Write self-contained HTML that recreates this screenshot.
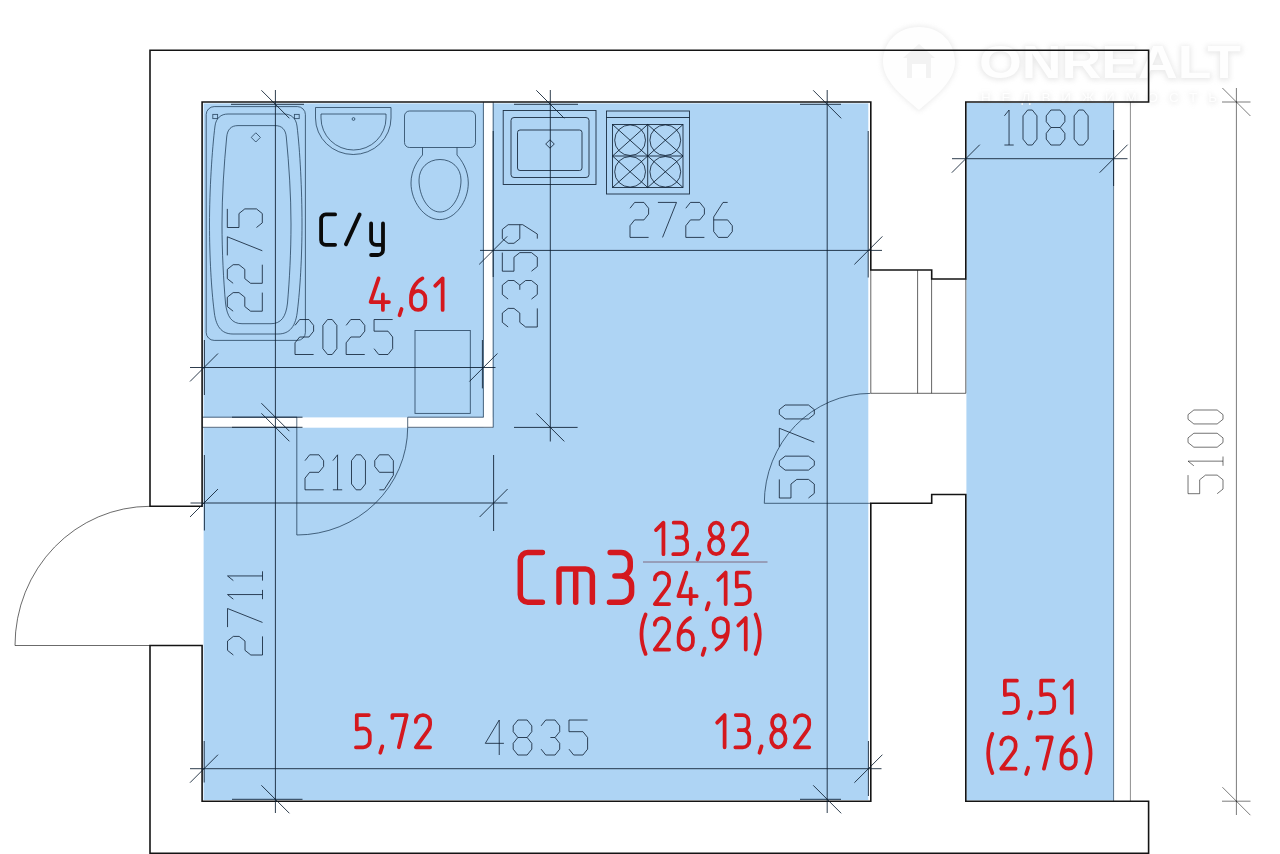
<!DOCTYPE html>
<html><head><meta charset="utf-8"><title>Plan</title>
<style>html,body{margin:0;padding:0;background:#fff;}body{width:1280px;height:854px;overflow:hidden;font-family:"Liberation Sans",sans-serif;}svg{display:block;filter:blur(0.3px)}</style>
</head><body>
<svg width="1280" height="854" viewBox="0 0 1280 854">
<rect width="1280" height="854" fill="#ffffff"/>
<rect x="203.6" y="103.4" width="664.6999999999999" height="696.6" fill="#aed4f4"/>
<rect x="966.4" y="103" width="147.19999999999993" height="697.4" fill="#aed4f4"/>
<rect x="483.6" y="102.6" width="9.2" height="325.4" fill="#fff"/>
<rect x="203" y="417.4" width="290" height="10.3" fill="#fff"/>
<g opacity="0.34" style="filter:blur(2.4px)">
<text x="979" y="78.5" font-family="Liberation Sans, sans-serif" font-weight="bold" font-size="46" textLength="262" lengthAdjust="spacingAndGlyphs" fill="#c4c4c4" stroke="#c4c4c4" stroke-width="3">ONREALT</text>
<path d="M919,27 C897,27 883,43 883,62 C883,82 905,98 919,110 C933,98 955,82 955,62 C955,43 941,27 919,27 Z" fill="#cccccc" stroke="#cccccc" stroke-width="3"/>
<text x="981" y="102.5" font-family="Liberation Sans, sans-serif" font-size="13.5" textLength="236" lengthAdjust="spacing" fill="#c8c8c8" stroke="#c8c8c8" stroke-width="1.5">НЕДВИЖИМОСТЬ</text>
</g>
<text x="979" y="77.5" font-family="Liberation Sans, sans-serif" font-weight="bold" font-size="46" textLength="262" lengthAdjust="spacingAndGlyphs" fill="#ffffff" fill-opacity="0.92">ONREALT</text>
<path d="M919,27 C897,27 883,43 883,62 C883,82 905,98 919,110 C933,98 955,82 955,62 C955,43 941,27 919,27 Z" fill="#ffffff" fill-opacity="0.9"/>
<path d="M919,44 L903,58 L907,58 L907,78 L931,78 L931,58 L935,58 Z" fill="#f3f3f3"/>
<path d="M912,78 L912,64 L926,64 L926,78 Z" fill="#ffffff"/>
<text x="981" y="101.5" font-family="Liberation Sans, sans-serif" font-size="13.5" textLength="236" lengthAdjust="spacing" fill="#ffffff" fill-opacity="0.9">НЕДВИЖИМОСТЬ</text>
<rect x="206.2" y="106.6" width="99.2" height="233.8" rx="8" fill="none" stroke="#16324d" stroke-opacity="0.8" stroke-width="0.9"/>
<rect x="212.8" y="114.4" width="4.8" height="4.2" rx="0" fill="none" stroke="#16324d" stroke-opacity="0.8" stroke-width="0.9"/>
<rect x="294.4" y="114.4" width="4.8" height="4.2" rx="0" fill="none" stroke="#16324d" stroke-opacity="0.8" stroke-width="0.9"/>
<path d="M228,114 L284,114 C291,114 296,118 297,126 C300,150 302,190 302,224 C302,258 300,290 297.5,310 C296,326 290,334 278,334 L233,334 C221,334 215.5,326 214,310 C211.5,290 209.5,258 209.5,224 C209.5,190 212,150 215,126 C216,118 221,114 228,114 Z" fill="none" stroke="#16324d" stroke-opacity="0.8" stroke-width="0.9"/>
<path d="M238,125.6 L275,125.6 C282,125.6 285.6,129.5 286.3,137 C289,165 291,195 291,224 C291,252 289.5,280 287.5,303 C286,317 281,323.7 271,323.7 L242,323.7 C232,323.7 227,317 225.5,303 C223.5,280 222,252 222,224 C222,195 224,165 226.7,137 C227.4,129.5 231,125.6 238,125.6 Z" fill="none" stroke="#16324d" stroke-opacity="0.8" stroke-width="0.9"/>
<path d="M255.8,132.8 L260.4,137.4 L255.8,142 L251.2,137.4 Z" fill="none" stroke="#16324d" stroke-opacity="0.8" stroke-width="0.9"/>
<path d="M315.5,107.5 L391,107.5 L391,118 A37.75,36.5 0 0 1 315.5,118 Z" fill="none" stroke="#16324d" stroke-opacity="0.8" stroke-width="0.9"/>
<path d="M321,114 L386,114 L386,118 A32.5,32 0 0 1 321,118 Z" fill="none" stroke="#16324d" stroke-opacity="0.8" stroke-width="0.9"/>
<circle cx="353.5" cy="119" r="1.4" fill="none" stroke="#16324d" stroke-opacity="0.8" stroke-width="0.9"/>
<rect x="404.5" y="111" width="71" height="36.5" rx="5" fill="none" stroke="#16324d" stroke-opacity="0.8" stroke-width="0.9"/>
<path d="M422.5,147.5 L422.5,155 C418,160 411,170 411,183 C411,201 424,219.6 439.7,219.6 C455.4,219.6 468.3,201 468.3,183 C468.3,170 461.5,160 457,155 L457,147.5" fill="none" stroke="#16324d" stroke-opacity="0.8" stroke-width="0.9"/>
<path d="M440,159.5 C428,159.5 419,168 419,180 C419,196 428,212 440,212 C452,212 461,196 461,180 C461,168 452,159.5 440,159.5 Z" fill="none" stroke="#16324d" stroke-opacity="0.8" stroke-width="0.9"/>
<rect x="415" y="330.5" width="55.3" height="82.9" rx="0" fill="none" stroke="#16324d" stroke-opacity="0.8" stroke-width="0.9"/>
<rect x="503.2" y="110.5" width="92.8" height="74" rx="0" fill="none" stroke="#0c1d30" stroke-opacity="0.9" stroke-width="0.9"/>
<rect x="511" y="117.5" width="78" height="60" rx="3" fill="none" stroke="#0c1d30" stroke-opacity="0.9" stroke-width="0.9"/>
<rect x="517.5" y="130" width="64.5" height="40.5" rx="2.5" fill="none" stroke="#0c1d30" stroke-opacity="0.9" stroke-width="0.9"/>
<path d="M550,139.8 L554.3,144 L550,148.2 L545.7,144 Z" fill="none" stroke="#0c1d30" stroke-opacity="0.9" stroke-width="0.9"/>
<rect x="606.5" y="111" width="83" height="83" rx="0" fill="none" stroke="#0c1d30" stroke-opacity="0.9" stroke-width="0.9"/>
<line x1="606.5" y1="117.5" x2="689.5" y2="117.5" stroke="#0c1d30" stroke-opacity="0.9" stroke-width="0.95"/>
<rect x="612.5" y="124.5" width="70.5" height="63" rx="0" fill="none" stroke="#0c1d30" stroke-opacity="0.9" stroke-width="0.9"/>
<line x1="647.7" y1="124.5" x2="647.7" y2="187.5" stroke="#0c1d30" stroke-opacity="0.9" stroke-width="0.95"/>
<line x1="612.5" y1="156" x2="683" y2="156" stroke="#0c1d30" stroke-opacity="0.9" stroke-width="0.95"/>
<ellipse cx="630.1" cy="140.2" rx="15.4" ry="15.3" fill="none" stroke="#0c1d30" stroke-opacity="0.9" stroke-width="0.9"/>
<ellipse cx="665.3" cy="140.2" rx="15.4" ry="15.3" fill="none" stroke="#0c1d30" stroke-opacity="0.9" stroke-width="0.9"/>
<ellipse cx="630.1" cy="171.8" rx="15.4" ry="15.3" fill="none" stroke="#0c1d30" stroke-opacity="0.9" stroke-width="0.9"/>
<ellipse cx="665.3" cy="171.8" rx="15.4" ry="15.3" fill="none" stroke="#0c1d30" stroke-opacity="0.9" stroke-width="0.9"/>
<line x1="612.5" y1="124.5" x2="647.7" y2="156" stroke="#0c1d30" stroke-opacity="0.9" stroke-width="0.95"/>
<line x1="612.5" y1="156" x2="647.7" y2="124.5" stroke="#0c1d30" stroke-opacity="0.9" stroke-width="0.95"/>
<line x1="612.5" y1="156" x2="647.7" y2="187.5" stroke="#0c1d30" stroke-opacity="0.9" stroke-width="0.95"/>
<line x1="612.5" y1="187.5" x2="647.7" y2="156" stroke="#0c1d30" stroke-opacity="0.9" stroke-width="0.95"/>
<line x1="647.7" y1="124.5" x2="683" y2="156" stroke="#0c1d30" stroke-opacity="0.9" stroke-width="0.95"/>
<line x1="647.7" y1="156" x2="683" y2="124.5" stroke="#0c1d30" stroke-opacity="0.9" stroke-width="0.95"/>
<line x1="647.7" y1="156" x2="683" y2="187.5" stroke="#0c1d30" stroke-opacity="0.9" stroke-width="0.95"/>
<line x1="647.7" y1="187.5" x2="683" y2="156" stroke="#0c1d30" stroke-opacity="0.9" stroke-width="0.95"/>
<line x1="483.4" y1="102" x2="483.4" y2="417.3" stroke="#16324d" stroke-opacity="0.8" stroke-width="0.9"/>
<line x1="493.2" y1="102" x2="493.2" y2="427.4" stroke="#16324d" stroke-opacity="0.8" stroke-width="0.9"/>
<line x1="202" y1="417.2" x2="297" y2="417.2" stroke="#16324d" stroke-opacity="0.8" stroke-width="0.9"/>
<line x1="202" y1="427.3" x2="297" y2="427.3" stroke="#16324d" stroke-opacity="0.8" stroke-width="0.9"/>
<line x1="407.7" y1="417.2" x2="483.4" y2="417.2" stroke="#16324d" stroke-opacity="0.8" stroke-width="0.9"/>
<line x1="407.7" y1="427.3" x2="493.2" y2="427.3" stroke="#16324d" stroke-opacity="0.8" stroke-width="0.9"/>
<line x1="407.7" y1="417.2" x2="407.7" y2="427.3" stroke="#16324d" stroke-opacity="0.8" stroke-width="0.9"/>
<line x1="296.8" y1="417.2" x2="296.8" y2="535" stroke="#16324d" stroke-opacity="0.8" stroke-width="0.9"/>
<path d="M296.8,535 A110.9,108 0 0 0 407.7,427.3" fill="none" stroke="#16324d" stroke-opacity="0.8" stroke-width="0.9"/>
<line x1="870.8" y1="270" x2="870.8" y2="393.3" stroke="#1a1a1a" stroke-opacity="0.75" stroke-width="0.9"/>
<line x1="917.6" y1="270" x2="917.6" y2="393.3" stroke="#1a1a1a" stroke-opacity="0.75" stroke-width="0.9"/>
<line x1="931.6" y1="279" x2="931.6" y2="393.3" stroke="#1a1a1a" stroke-opacity="0.75" stroke-width="0.9"/>
<line x1="965.8" y1="279" x2="965.8" y2="393.3" stroke="#1a1a1a" stroke-opacity="0.75" stroke-width="0.9"/>
<line x1="870.8" y1="393.3" x2="965.8" y2="393.3" stroke="#1a1a1a" stroke-opacity="0.75" stroke-width="0.9"/>
<path d="M870.5,393.4 A106.2,109.9 0 0 0 764.3,503.3" fill="none" stroke="#16324d" stroke-opacity="0.8" stroke-width="0.9"/>
<line x1="764.3" y1="503.3" x2="870.8" y2="503.3" stroke="#16324d" stroke-opacity="0.8" stroke-width="0.9"/>
<line x1="1113.6" y1="102" x2="1113.6" y2="801" stroke="#16324d" stroke-opacity="0.7" stroke-width="0.9"/>
<line x1="1130.4" y1="102" x2="1130.4" y2="801" stroke="#000" stroke-opacity="0.5" stroke-width="0.9"/>
<path d="M150,506.3 A135,139.2 0 0 0 15,645.5 L150,645.5" fill="none" stroke="#1a1a1a" stroke-opacity="0.72" stroke-width="0.9"/>
<path d="M150,50.2 L1148.6,50.2 L1148.6,102 L965.8,102 L965.8,279 L931.7,279 L931.7,270 L870.8,270 L870.8,102 L202.1,102 L202.1,506.3 L150,506.3 Z" fill="none" stroke="#141414" stroke-width="1.6" stroke-linejoin="miter"/>
<path d="M150,645.5 L202.1,645.5 L202.1,801.2 L870.8,801.2 L870.8,503.3 L931.7,503.3 L931.7,494.5 L965.8,494.5 L965.8,801.2 L1148.6,801.2 L1148.6,853.3 L150,853.3 Z" fill="none" stroke="#141414" stroke-width="1.6" stroke-linejoin="miter"/>
<line x1="275.4" y1="90" x2="275.4" y2="813" stroke="#0c1d30" stroke-opacity="0.9" stroke-width="0.95"/>
<line x1="261.4" y1="90.3" x2="289.4" y2="118.3" stroke="#0c1d30" stroke-opacity="0.9" stroke-width="0.95"/>
<line x1="231" y1="104.3" x2="304" y2="104.3" stroke="#0c1d30" stroke-opacity="0.9" stroke-width="0.95"/>
<line x1="261.4" y1="403.2" x2="289.4" y2="431.2" stroke="#0c1d30" stroke-opacity="0.9" stroke-width="0.95"/>
<line x1="261.4" y1="413.3" x2="289.4" y2="441.3" stroke="#0c1d30" stroke-opacity="0.9" stroke-width="0.95"/>
<line x1="232" y1="417.2" x2="302.5" y2="417.2" stroke="#0c1d30" stroke-opacity="0.9" stroke-width="0.95"/>
<line x1="232" y1="427.3" x2="302.5" y2="427.3" stroke="#0c1d30" stroke-opacity="0.9" stroke-width="0.95"/>
<line x1="261.4" y1="785.3" x2="289.4" y2="813.3" stroke="#0c1d30" stroke-opacity="0.9" stroke-width="0.95"/>
<line x1="232" y1="799.3" x2="302.5" y2="799.3" stroke="#0c1d30" stroke-opacity="0.9" stroke-width="0.95"/>
<line x1="550.3" y1="90" x2="550.3" y2="441.5" stroke="#0c1d30" stroke-opacity="0.9" stroke-width="0.95"/>
<line x1="536.3" y1="90.3" x2="564.3" y2="118.3" stroke="#0c1d30" stroke-opacity="0.9" stroke-width="0.95"/>
<line x1="514" y1="104.3" x2="578" y2="104.3" stroke="#0c1d30" stroke-opacity="0.9" stroke-width="0.95"/>
<line x1="536.3" y1="413.4" x2="564.3" y2="441.4" stroke="#0c1d30" stroke-opacity="0.9" stroke-width="0.95"/>
<line x1="514" y1="427.4" x2="577.6" y2="427.4" stroke="#0c1d30" stroke-opacity="0.9" stroke-width="0.95"/>
<line x1="827.2" y1="90" x2="827.2" y2="813" stroke="#0c1d30" stroke-opacity="0.9" stroke-width="0.95"/>
<line x1="813.2" y1="90.3" x2="841.2" y2="118.3" stroke="#0c1d30" stroke-opacity="0.9" stroke-width="0.95"/>
<line x1="800" y1="104.3" x2="841" y2="104.3" stroke="#0c1d30" stroke-opacity="0.9" stroke-width="0.95"/>
<line x1="813.2" y1="785.3" x2="841.2" y2="813.3" stroke="#0c1d30" stroke-opacity="0.9" stroke-width="0.95"/>
<line x1="800" y1="799.3" x2="841" y2="799.3" stroke="#0c1d30" stroke-opacity="0.9" stroke-width="0.95"/>
<line x1="1236.4" y1="88" x2="1236.4" y2="815" stroke="#000" stroke-opacity="0.58" stroke-width="0.9"/>
<line x1="1222.4" y1="88" x2="1250.4" y2="116" stroke="#000" stroke-opacity="0.58" stroke-width="0.9"/>
<line x1="1222" y1="102" x2="1250.5" y2="102" stroke="#000" stroke-opacity="0.58" stroke-width="0.9"/>
<line x1="1222.4" y1="787.2" x2="1250.4" y2="815.2" stroke="#000" stroke-opacity="0.58" stroke-width="0.9"/>
<line x1="1222" y1="801.2" x2="1250.5" y2="801.2" stroke="#000" stroke-opacity="0.58" stroke-width="0.9"/>
<line x1="190" y1="367.5" x2="495.5" y2="367.5" stroke="#0c1d30" stroke-opacity="0.9" stroke-width="0.95"/>
<line x1="190" y1="381.5" x2="218" y2="353.5" stroke="#0c1d30" stroke-opacity="0.9" stroke-width="0.95"/>
<line x1="469.4" y1="381.5" x2="497.4" y2="353.5" stroke="#0c1d30" stroke-opacity="0.9" stroke-width="0.95"/>
<line x1="204.4" y1="340" x2="204.4" y2="395" stroke="#0c1d30" stroke-opacity="0.9" stroke-width="0.95"/>
<line x1="482.4" y1="340" x2="482.4" y2="388.4" stroke="#0c1d30" stroke-opacity="0.9" stroke-width="0.95"/>
<line x1="480" y1="250.4" x2="882" y2="250.4" stroke="#0c1d30" stroke-opacity="0.9" stroke-width="0.95"/>
<line x1="479.2" y1="264.4" x2="507.2" y2="236.4" stroke="#0c1d30" stroke-opacity="0.9" stroke-width="0.95"/>
<line x1="854.4" y1="264.4" x2="882.4" y2="236.4" stroke="#0c1d30" stroke-opacity="0.9" stroke-width="0.95"/>
<line x1="493.2" y1="131" x2="493.2" y2="277" stroke="#0c1d30" stroke-opacity="0.9" stroke-width="0.95"/>
<line x1="868.2" y1="131" x2="868.2" y2="277.5" stroke="#0c1d30" stroke-opacity="0.9" stroke-width="0.95"/>
<line x1="952" y1="158.7" x2="1127.5" y2="158.7" stroke="#0c1d30" stroke-opacity="0.9" stroke-width="0.95"/>
<line x1="951.8" y1="172.7" x2="979.8" y2="144.7" stroke="#0c1d30" stroke-opacity="0.9" stroke-width="0.95"/>
<line x1="1099.6" y1="172.7" x2="1127.6" y2="144.7" stroke="#0c1d30" stroke-opacity="0.9" stroke-width="0.95"/>
<line x1="1113.6" y1="130" x2="1113.6" y2="186" stroke="#0c1d30" stroke-opacity="0.9" stroke-width="0.95"/>
<line x1="190.5" y1="503" x2="507.5" y2="503" stroke="#0c1d30" stroke-opacity="0.9" stroke-width="0.95"/>
<line x1="190" y1="517" x2="218" y2="489" stroke="#0c1d30" stroke-opacity="0.9" stroke-width="0.95"/>
<line x1="479.6" y1="517" x2="507.6" y2="489" stroke="#0c1d30" stroke-opacity="0.9" stroke-width="0.95"/>
<line x1="204.4" y1="455" x2="204.4" y2="530.5" stroke="#0c1d30" stroke-opacity="0.9" stroke-width="0.95"/>
<line x1="493.6" y1="455" x2="493.6" y2="531" stroke="#0c1d30" stroke-opacity="0.9" stroke-width="0.95"/>
<line x1="190" y1="768.7" x2="881.5" y2="768.7" stroke="#0c1d30" stroke-opacity="0.9" stroke-width="0.95"/>
<line x1="190" y1="782.7" x2="218" y2="754.7" stroke="#0c1d30" stroke-opacity="0.9" stroke-width="0.95"/>
<line x1="854.4" y1="782.7" x2="882.4" y2="754.7" stroke="#0c1d30" stroke-opacity="0.9" stroke-width="0.95"/>
<line x1="204.2" y1="741" x2="204.2" y2="782.5" stroke="#0c1d30" stroke-opacity="0.9" stroke-width="0.95"/>
<line x1="868.4" y1="741" x2="868.4" y2="796" stroke="#0c1d30" stroke-opacity="0.9" stroke-width="0.95"/>
<path transform="translate(295,354.5)" d="M0.00,-29.15 L4.65,-34.98 L13.95,-34.98 L18.60,-29.15 L18.60,-23.32 L13.95,-17.49 L4.65,-17.49 L0.00,-11.66 L0.00,-0.00 L18.60,-0.00 M27.90,-5.83 L27.90,-29.15 L32.55,-34.98 L37.20,-34.98 L41.85,-29.15 L41.85,-5.83 L37.20,-0.00 L32.55,-0.00 Z M51.15,-29.15 L55.80,-34.98 L65.10,-34.98 L69.75,-29.15 L69.75,-23.32 L65.10,-17.49 L55.80,-17.49 L51.15,-11.66 L51.15,-0.00 L69.75,-0.00 M97.65,-34.98 L79.05,-34.98 L79.05,-23.32 L93.00,-23.32 L97.65,-17.49 L97.65,-5.83 L93.00,-0.00 L83.70,-0.00 L79.05,-5.83" fill="none" stroke="#0c1d30" stroke-opacity="0.85" stroke-width="0.95" stroke-linejoin="miter"/>
<path transform="translate(630,237.4)" d="M0.00,-29.15 L4.65,-34.98 L13.95,-34.98 L18.60,-29.15 L18.60,-23.32 L13.95,-17.49 L4.65,-17.49 L0.00,-11.66 L0.00,-0.00 L18.60,-0.00 M27.90,-34.98 L46.50,-34.98 L32.55,-0.00 M55.80,-29.15 L60.45,-34.98 L69.75,-34.98 L74.40,-29.15 L74.40,-23.32 L69.75,-17.49 L60.45,-17.49 L55.80,-11.66 L55.80,-0.00 L74.40,-0.00 M97.65,-34.98 L93.00,-34.98 L83.70,-20.41 L83.70,-5.83 L88.35,-0.00 L97.65,-0.00 L102.30,-5.83 L102.30,-11.66 L97.65,-17.49 L83.70,-17.49" fill="none" stroke="#0c1d30" stroke-opacity="0.85" stroke-width="0.95" stroke-linejoin="miter"/>
<path transform="translate(1004.4,145)" d="M0.00,-29.15 L4.65,-34.98 L4.65,-0.00 M0.00,-0.00 L9.30,-0.00 M18.60,-5.83 L18.60,-29.15 L23.25,-34.98 L27.90,-34.98 L32.55,-29.15 L32.55,-5.83 L27.90,-0.00 L23.25,-0.00 Z M46.50,-17.49 L41.85,-23.32 L41.85,-29.15 L46.50,-34.98 L55.80,-34.98 L60.45,-29.15 L60.45,-23.32 L55.80,-17.49 L46.50,-17.49 L41.85,-11.66 L41.85,-5.83 L46.50,-0.00 L55.80,-0.00 L60.45,-5.83 L60.45,-11.66 L55.80,-17.49 M69.75,-5.83 L69.75,-29.15 L74.40,-34.98 L79.05,-34.98 L83.70,-29.15 L83.70,-5.83 L79.05,-0.00 L74.40,-0.00 Z" fill="none" stroke="#0c1d30" stroke-opacity="0.85" stroke-width="0.95" stroke-linejoin="miter"/>
<path transform="translate(485.3,755)" d="M13.95,-0.00 L13.95,-34.98 L0.00,-11.66 L18.60,-11.66 M32.55,-17.49 L27.90,-23.32 L27.90,-29.15 L32.55,-34.98 L41.85,-34.98 L46.50,-29.15 L46.50,-23.32 L41.85,-17.49 L32.55,-17.49 L27.90,-11.66 L27.90,-5.83 L32.55,-0.00 L41.85,-0.00 L46.50,-5.83 L46.50,-11.66 L41.85,-17.49 M55.80,-29.15 L60.45,-34.98 L69.75,-34.98 L74.40,-29.15 L74.40,-23.32 L69.75,-17.49 L65.10,-17.49 M69.75,-17.49 L74.40,-11.66 L74.40,-5.83 L69.75,-0.00 L60.45,-0.00 L55.80,-5.83 M102.30,-34.98 L83.70,-34.98 L83.70,-23.32 L97.65,-23.32 L102.30,-17.49 L102.30,-5.83 L97.65,-0.00 L88.35,-0.00 L83.70,-5.83" fill="none" stroke="#0c1d30" stroke-opacity="0.85" stroke-width="0.95" stroke-linejoin="miter"/>
<path transform="translate(305,489.8)" d="M0.00,-29.15 L4.65,-34.98 L13.95,-34.98 L18.60,-29.15 L18.60,-23.32 L13.95,-17.49 L4.65,-17.49 L0.00,-11.66 L0.00,-0.00 L18.60,-0.00 M27.90,-29.15 L32.55,-34.98 L32.55,-0.00 M27.90,-0.00 L37.20,-0.00 M46.50,-5.83 L46.50,-29.15 L51.15,-34.98 L55.80,-34.98 L60.45,-29.15 L60.45,-5.83 L55.80,-0.00 L51.15,-0.00 Z M74.40,-0.00 L79.05,-0.00 L88.35,-14.57 L88.35,-29.15 L83.70,-34.98 L74.40,-34.98 L69.75,-29.15 L69.75,-23.32 L74.40,-17.49 L88.35,-17.49" fill="none" stroke="#0c1d30" stroke-opacity="0.85" stroke-width="0.95" stroke-linejoin="miter"/>
<path transform="translate(262.5,655) rotate(-90)" d="M0.00,-29.15 L4.65,-34.98 L13.95,-34.98 L18.60,-29.15 L18.60,-23.32 L13.95,-17.49 L4.65,-17.49 L0.00,-11.66 L0.00,-0.00 L18.60,-0.00 M27.90,-34.98 L46.50,-34.98 L32.55,-0.00 M55.80,-29.15 L60.45,-34.98 L60.45,-0.00 M55.80,-0.00 L65.10,-0.00 M74.40,-29.15 L79.05,-34.98 L79.05,-0.00 M74.40,-0.00 L83.70,-0.00" fill="none" stroke="#0c1d30" stroke-opacity="0.85" stroke-width="0.95" stroke-linejoin="miter"/>
<path transform="translate(262.3,311.2) rotate(-90)" d="M0.00,-29.15 L4.65,-34.98 L13.95,-34.98 L18.60,-29.15 L18.60,-23.32 L13.95,-17.49 L4.65,-17.49 L0.00,-11.66 L0.00,-0.00 L18.60,-0.00 M27.90,-29.15 L32.55,-34.98 L41.85,-34.98 L46.50,-29.15 L46.50,-23.32 L41.85,-17.49 L32.55,-17.49 L27.90,-11.66 L27.90,-0.00 L46.50,-0.00 M55.80,-34.98 L74.40,-34.98 L60.45,-0.00 M102.30,-34.98 L83.70,-34.98 L83.70,-23.32 L97.65,-23.32 L102.30,-17.49 L102.30,-5.83 L97.65,-0.00 L88.35,-0.00 L83.70,-5.83" fill="none" stroke="#0c1d30" stroke-opacity="0.85" stroke-width="0.95" stroke-linejoin="miter"/>
<path transform="translate(537.3,327) rotate(-90)" d="M0.00,-29.15 L4.65,-34.98 L13.95,-34.98 L18.60,-29.15 L18.60,-23.32 L13.95,-17.49 L4.65,-17.49 L0.00,-11.66 L0.00,-0.00 L18.60,-0.00 M27.90,-29.15 L32.55,-34.98 L41.85,-34.98 L46.50,-29.15 L46.50,-23.32 L41.85,-17.49 L37.20,-17.49 M41.85,-17.49 L46.50,-11.66 L46.50,-5.83 L41.85,-0.00 L32.55,-0.00 L27.90,-5.83 M74.40,-34.98 L55.80,-34.98 L55.80,-23.32 L69.75,-23.32 L74.40,-17.49 L74.40,-5.83 L69.75,-0.00 L60.45,-0.00 L55.80,-5.83 M88.35,-0.00 L93.00,-0.00 L102.30,-14.57 L102.30,-29.15 L97.65,-34.98 L88.35,-34.98 L83.70,-29.15 L83.70,-23.32 L88.35,-17.49 L102.30,-17.49" fill="none" stroke="#0c1d30" stroke-opacity="0.85" stroke-width="0.95" stroke-linejoin="miter"/>
<path transform="translate(814.3,498) rotate(-90)" d="M18.60,-34.98 L0.00,-34.98 L0.00,-23.32 L13.95,-23.32 L18.60,-17.49 L18.60,-5.83 L13.95,-0.00 L4.65,-0.00 L0.00,-5.83 M27.90,-5.83 L27.90,-29.15 L32.55,-34.98 L37.20,-34.98 L41.85,-29.15 L41.85,-5.83 L37.20,-0.00 L32.55,-0.00 Z M51.15,-34.98 L69.75,-34.98 L55.80,-0.00 M79.05,-5.83 L79.05,-29.15 L83.70,-34.98 L88.35,-34.98 L93.00,-29.15 L93.00,-5.83 L88.35,-0.00 L83.70,-0.00 Z" fill="none" stroke="#0c1d30" stroke-opacity="0.85" stroke-width="0.95" stroke-linejoin="miter"/>
<path transform="translate(1223,493.7) rotate(-90)" d="M18.60,-34.98 L0.00,-34.98 L0.00,-23.32 L13.95,-23.32 L18.60,-17.49 L18.60,-5.83 L13.95,-0.00 L4.65,-0.00 L0.00,-5.83 M27.90,-29.15 L32.55,-34.98 L32.55,-0.00 M27.90,-0.00 L37.20,-0.00 M46.50,-5.83 L46.50,-29.15 L51.15,-34.98 L55.80,-34.98 L60.45,-29.15 L60.45,-5.83 L55.80,-0.00 L51.15,-0.00 Z M69.75,-5.83 L69.75,-29.15 L74.40,-34.98 L79.05,-34.98 L83.70,-29.15 L83.70,-5.83 L79.05,-0.00 L74.40,-0.00 Z" fill="none" stroke="#000" stroke-opacity="0.58" stroke-width="0.95" stroke-linejoin="miter"/>
<path transform="translate(656.00,522.70)" d="M0,7.40 L7.44,0 L7.44,31.50" fill="none" stroke="#d4181e" stroke-width="3.75" stroke-linecap="round" stroke-linejoin="round"/>
<path transform="translate(672.80,522.70)" d="M0.86,0 L7.72,0 A5.72,5.72 0 0 1 13.44,5.72 L13.44,9.08 A5.72,5.72 0 0 1 7.72,14.80 L3.86,14.80 M7.72,14.80 A6.58,6.29 0 0 1 14.30,21.10 L14.30,25.21 A6.29,6.29 0 0 1 8.01,31.50 L0.43,31.50" fill="none" stroke="#d4181e" stroke-width="3.75" stroke-linecap="round" stroke-linejoin="round"/>
<path transform="translate(696.30,522.70)" d="M3.15,30.55 L1.14,36.85" fill="none" stroke="#d4181e" stroke-width="3.75" stroke-linecap="round" stroke-linejoin="round"/>
<path transform="translate(709.00,522.70)" d="M0.86,7.40 A6.29,7.40 0 1 1 13.44,7.40 A6.29,7.40 0 1 1 0.86,7.40 Z M0,23.15 A7.15,8.35 0 1 1 14.30,23.15 A7.15,8.35 0 1 1 0,23.15 Z" fill="none" stroke="#d4181e" stroke-width="3.75" stroke-linecap="round" stroke-linejoin="round"/>
<path transform="translate(732.80,522.70)" d="M0,6.79 A7.15,6.79 0 0 1 14.30,6.79 L14.30,9.45 Q14.30,12.60 11.73,15.75 L0,31.50 L14.30,31.50" fill="none" stroke="#d4181e" stroke-width="3.75" stroke-linecap="round" stroke-linejoin="round"/>
<line x1="643" y1="562" x2="767.5" y2="562" stroke="#6e4152" stroke-opacity="0.85" stroke-width="0.85"/>
<path transform="translate(654.80,572.60)" d="M0,6.79 A7.15,6.79 0 0 1 14.30,6.79 L14.30,9.45 Q14.30,12.60 11.73,15.75 L0,31.50 L14.30,31.50" fill="none" stroke="#d4181e" stroke-width="3.75" stroke-linecap="round" stroke-linejoin="round"/>
<path transform="translate(678.40,572.60)" d="M8.01,0 L0,23.62 L18.30,23.62 M12.30,16.07 L12.30,31.50" fill="none" stroke="#d4181e" stroke-width="3.75" stroke-linecap="round" stroke-linejoin="round"/>
<path transform="translate(705.50,572.60)" d="M3.15,30.55 L1.14,36.85" fill="none" stroke="#d4181e" stroke-width="3.75" stroke-linecap="round" stroke-linejoin="round"/>
<path transform="translate(718.20,572.60)" d="M0,7.40 L7.44,0 L7.44,31.50" fill="none" stroke="#d4181e" stroke-width="3.75" stroke-linecap="round" stroke-linejoin="round"/>
<path transform="translate(735.50,572.60)" d="M13.30,0 L1.29,0 L1.29,14.02 Q4.29,13.07 7.72,13.07 A6.58,6.58 0 0 1 14.30,19.65 L14.30,24.92 A6.58,6.58 0 0 1 7.72,31.50 L0.43,31.50" fill="none" stroke="#d4181e" stroke-width="3.75" stroke-linecap="round" stroke-linejoin="round"/>
<path transform="translate(639.60,618.00)" d="M6.01,-3.46 Q-2.29,16.38 6.01,35.91" fill="none" stroke="#d4181e" stroke-width="3.75" stroke-linecap="round" stroke-linejoin="round"/>
<path transform="translate(654.80,618.00)" d="M0,6.79 A7.15,6.79 0 0 1 14.30,6.79 L14.30,9.45 Q14.30,12.60 11.73,15.75 L0,31.50 L14.30,31.50" fill="none" stroke="#d4181e" stroke-width="3.75" stroke-linecap="round" stroke-linejoin="round"/>
<path transform="translate(678.60,618.00)" d="M11.44,0 C5.00,3.15 0,11.34 0,19.53 L0,24.35 A7.15,7.15 0 0 0 14.30,24.35 L14.30,19.75 A7.15,7.15 0 0 0 0,19.75" fill="none" stroke="#d4181e" stroke-width="3.75" stroke-linecap="round" stroke-linejoin="round"/>
<path transform="translate(701.50,618.00)" d="M3.15,30.55 L1.14,36.85" fill="none" stroke="#d4181e" stroke-width="3.75" stroke-linecap="round" stroke-linejoin="round"/>
<path transform="translate(713.60,618.00)" d="M2.86,31.50 C9.29,28.35 14.30,20.16 14.30,11.97 L14.30,7.15 A7.15,7.15 0 0 0 0,7.15 L0,11.75 A7.15,7.15 0 0 0 14.30,11.75" fill="none" stroke="#d4181e" stroke-width="3.75" stroke-linecap="round" stroke-linejoin="round"/>
<path transform="translate(738.30,618.00)" d="M0,7.40 L7.44,0 L7.44,31.50" fill="none" stroke="#d4181e" stroke-width="3.75" stroke-linecap="round" stroke-linejoin="round"/>
<path transform="translate(755.60,618.00)" d="M0,-3.46 Q8.29,16.38 0,35.91" fill="none" stroke="#d4181e" stroke-width="3.75" stroke-linecap="round" stroke-linejoin="round"/>
<path transform="translate(370.60,278.40)" d="M8.01,0 L0,23.62 L18.30,23.62 M12.30,16.07 L12.30,31.50" fill="none" stroke="#d4181e" stroke-width="3.75" stroke-linecap="round" stroke-linejoin="round"/>
<path transform="translate(398.40,278.40)" d="M3.15,30.55 L1.14,36.85" fill="none" stroke="#d4181e" stroke-width="3.75" stroke-linecap="round" stroke-linejoin="round"/>
<path transform="translate(411.00,278.40)" d="M11.44,0 C5.00,3.15 0,11.34 0,19.53 L0,24.35 A7.15,7.15 0 0 0 14.30,24.35 L14.30,19.75 A7.15,7.15 0 0 0 0,19.75" fill="none" stroke="#d4181e" stroke-width="3.75" stroke-linecap="round" stroke-linejoin="round"/>
<path transform="translate(435.20,278.40)" d="M0,7.40 L7.44,0 L7.44,31.50" fill="none" stroke="#d4181e" stroke-width="3.75" stroke-linecap="round" stroke-linejoin="round"/>
<path transform="translate(355.50,715.10)" d="M13.30,0 L1.29,0 L1.29,14.33 Q4.29,13.36 7.72,13.36 A6.58,6.58 0 0 1 14.30,19.94 L14.30,25.62 A6.58,6.58 0 0 1 7.72,32.20 L0.43,32.20" fill="none" stroke="#d4181e" stroke-width="3.75" stroke-linecap="round" stroke-linejoin="round"/>
<path transform="translate(379.15,715.10)" d="M3.15,31.23 L1.14,37.67" fill="none" stroke="#d4181e" stroke-width="3.75" stroke-linecap="round" stroke-linejoin="round"/>
<path transform="translate(392.40,715.10)" d="M0,2.90 L0,0 L14.30,0 L6.44,32.20" fill="none" stroke="#d4181e" stroke-width="3.75" stroke-linecap="round" stroke-linejoin="round"/>
<path transform="translate(415.80,715.10)" d="M0,6.79 A7.15,6.79 0 0 1 14.30,6.79 L14.30,9.66 Q14.30,12.88 11.73,16.10 L0,32.20 L14.30,32.20" fill="none" stroke="#d4181e" stroke-width="3.75" stroke-linecap="round" stroke-linejoin="round"/>
<path transform="translate(717.16,715.10)" d="M0,7.57 L7.44,0 L7.44,32.20" fill="none" stroke="#d4181e" stroke-width="3.75" stroke-linecap="round" stroke-linejoin="round"/>
<path transform="translate(734.90,715.10)" d="M0.86,0 L7.72,0 A5.72,5.72 0 0 1 13.44,5.72 L13.44,9.41 A5.72,5.72 0 0 1 7.72,15.13 L3.86,15.13 M7.72,15.13 A6.58,6.29 0 0 1 14.30,21.43 L14.30,25.91 A6.29,6.29 0 0 1 8.01,32.20 L0.43,32.20" fill="none" stroke="#d4181e" stroke-width="3.75" stroke-linecap="round" stroke-linejoin="round"/>
<path transform="translate(758.35,715.10)" d="M3.15,31.23 L1.14,37.67" fill="none" stroke="#d4181e" stroke-width="3.75" stroke-linecap="round" stroke-linejoin="round"/>
<path transform="translate(771.20,715.10)" d="M0.86,7.57 A6.29,7.57 0 1 1 13.44,7.57 A6.29,7.57 0 1 1 0.86,7.57 Z M0,23.67 A7.15,8.53 0 1 1 14.30,23.67 A7.15,8.53 0 1 1 0,23.67 Z" fill="none" stroke="#d4181e" stroke-width="3.75" stroke-linecap="round" stroke-linejoin="round"/>
<path transform="translate(794.90,715.10)" d="M0,6.79 A7.15,6.79 0 0 1 14.30,6.79 L14.30,9.66 Q14.30,12.88 11.73,16.10 L0,32.20 L14.30,32.20" fill="none" stroke="#d4181e" stroke-width="3.75" stroke-linecap="round" stroke-linejoin="round"/>
<path transform="translate(1003.60,680.70)" d="M13.30,0 L1.29,0 L1.29,14.33 Q4.29,13.36 7.72,13.36 A6.58,6.58 0 0 1 14.30,19.94 L14.30,25.62 A6.58,6.58 0 0 1 7.72,32.20 L0.43,32.20" fill="none" stroke="#d4181e" stroke-width="3.75" stroke-linecap="round" stroke-linejoin="round"/>
<path transform="translate(1027.85,680.70)" d="M3.15,31.23 L1.14,37.67" fill="none" stroke="#d4181e" stroke-width="3.75" stroke-linecap="round" stroke-linejoin="round"/>
<path transform="translate(1039.90,680.70)" d="M13.30,0 L1.29,0 L1.29,14.33 Q4.29,13.36 7.72,13.36 A6.58,6.58 0 0 1 14.30,19.94 L14.30,25.62 A6.58,6.58 0 0 1 7.72,32.20 L0.43,32.20" fill="none" stroke="#d4181e" stroke-width="3.75" stroke-linecap="round" stroke-linejoin="round"/>
<path transform="translate(1064.36,680.70)" d="M0,7.57 L7.44,0 L7.44,32.20" fill="none" stroke="#d4181e" stroke-width="3.75" stroke-linecap="round" stroke-linejoin="round"/>
<path transform="translate(986.30,737.30)" d="M6.01,-3.45 Q-2.29,16.33 6.01,35.80" fill="none" stroke="#d4181e" stroke-width="3.75" stroke-linecap="round" stroke-linejoin="round"/>
<path transform="translate(1001.30,737.30)" d="M0,6.79 A7.15,6.79 0 0 1 14.30,6.79 L14.30,9.42 Q14.30,12.56 11.73,15.70 L0,31.40 L14.30,31.40" fill="none" stroke="#d4181e" stroke-width="3.75" stroke-linecap="round" stroke-linejoin="round"/>
<path transform="translate(1025.00,737.30)" d="M3.15,30.46 L1.14,36.74" fill="none" stroke="#d4181e" stroke-width="3.75" stroke-linecap="round" stroke-linejoin="round"/>
<path transform="translate(1037.50,737.30)" d="M0,2.83 L0,0 L14.30,0 L6.44,31.40" fill="none" stroke="#d4181e" stroke-width="3.75" stroke-linecap="round" stroke-linejoin="round"/>
<path transform="translate(1061.50,737.30)" d="M11.44,0 C5.00,3.14 0,11.30 0,19.47 L0,24.25 A7.15,7.15 0 0 0 14.30,24.25 L14.30,19.71 A7.15,7.15 0 0 0 0,19.71" fill="none" stroke="#d4181e" stroke-width="3.75" stroke-linecap="round" stroke-linejoin="round"/>
<path transform="translate(1086.40,737.30)" d="M0,-3.45 Q8.29,16.33 0,35.80" fill="none" stroke="#d4181e" stroke-width="3.75" stroke-linecap="round" stroke-linejoin="round"/>
<path transform="translate(520.30,552.60)" d="M22.10,0 L7.51,0 A7.51,7.51 0 0 0 0,7.51 L0,42.09 A7.51,7.51 0 0 0 7.51,49.60 L22.10,49.60" fill="none" stroke="#d4181e" stroke-width="5.5" stroke-linecap="round" stroke-linejoin="round"/>
<path transform="translate(559.00,552.60)" d="M0,49.60 L0,18.72 A2.35,2.35 0 0 1 2.35,16.37 L26.32,16.37 A7.05,7.05 0 0 1 33.37,23.42 L33.37,49.60 M16.68,16.37 L16.68,49.60" fill="none" stroke="#d4181e" stroke-width="5.5" stroke-linecap="round" stroke-linejoin="round"/>
<path transform="translate(608.80,552.60)" d="M1.37,0 L12.31,0 A9.12,9.12 0 0 1 21.43,9.12 L21.43,14.19 A9.12,9.12 0 0 1 12.31,23.31 L6.16,23.31 M12.31,23.31 A10.49,10.03 0 0 1 22.80,33.34 L22.80,39.57 A10.03,10.03 0 0 1 12.77,49.60 L0.68,49.60" fill="none" stroke="#d4181e" stroke-width="5.5" stroke-linecap="round" stroke-linejoin="round"/>
<path transform="translate(321.10,214.40)" d="M14.00,0 L4.76,0 A4.76,4.76 0 0 0 0,4.76 L0,25.64 A4.76,4.76 0 0 0 4.76,30.40 L14.00,30.40" fill="none" stroke="#0a0a0a" stroke-width="3.8" stroke-linecap="round" stroke-linejoin="round"/>
<path transform="translate(345.90,214.40)" d="M13.72,0 L0,29.94" fill="none" stroke="#0a0a0a" stroke-width="3.8" stroke-linecap="round" stroke-linejoin="round"/>
<path transform="translate(371.10,214.40)" d="M0,9.12 L0,25.36 A5.04,5.04 0 0 0 5.04,30.40 L11.90,30.40 M11.90,9.12 L11.90,35.54 A5.04,5.04 0 0 1 6.86,40.58 L0.00,40.58" fill="none" stroke="#0a0a0a" stroke-width="3.8" stroke-linecap="round" stroke-linejoin="round"/>
</svg>
</body></html>
